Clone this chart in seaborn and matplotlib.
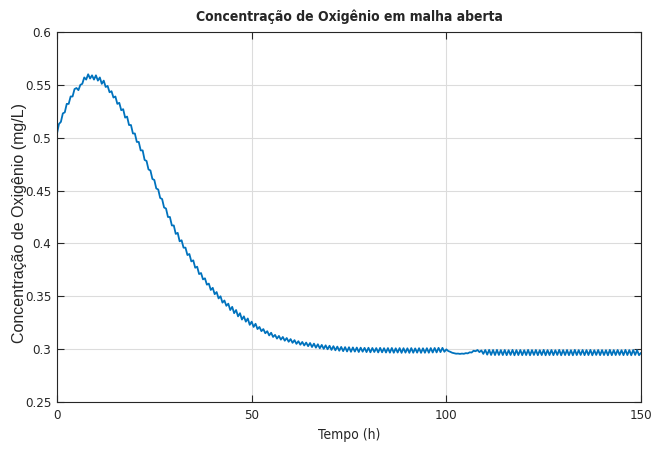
import numpy as np
import pandas as pd
import matplotlib
matplotlib.use("Agg")
import matplotlib.pyplot as plt
import seaborn as sns

step_h = 0.5
oxygen = [
    0.504, 0.513, 0.515, 0.523, 0.524, 0.532, 0.532, 0.539, 0.539, 0.546,
    0.547, 0.545, 0.550, 0.551, 0.557, 0.555, 0.560, 0.556, 0.559, 0.555,
    0.559, 0.554, 0.557, 0.551, 0.554, 0.548, 0.549, 0.543, 0.544, 0.538,
    0.539, 0.532, 0.533, 0.526, 0.527, 0.519, 0.520, 0.512, 0.512, 0.504,
    0.504, 0.496, 0.496, 0.488, 0.488, 0.479, 0.478, 0.470, 0.469, 0.461,
    0.460, 0.452, 0.451, 0.443, 0.442, 0.434, 0.433, 0.425, 0.425, 0.417,
    0.417, 0.409, 0.410, 0.402, 0.403, 0.396, 0.396, 0.389, 0.390, 0.383,
    0.384, 0.377, 0.378, 0.371, 0.372, 0.366, 0.367, 0.361, 0.362, 0.356,
    0.358, 0.352, 0.354, 0.348, 0.350, 0.344, 0.346, 0.341, 0.343, 0.337,
    0.340, 0.334, 0.337, 0.331, 0.334, 0.328, 0.331, 0.326, 0.329, 0.323,
    0.326, 0.321, 0.324, 0.319, 0.321, 0.317, 0.319, 0.315, 0.317, 0.313,
    0.3155, 0.3115, 0.3135, 0.3100, 0.3125, 0.3090, 0.3115, 0.3080, 0.3105, 0.3070,
    0.3095, 0.3060, 0.3085, 0.3050, 0.3075, 0.3042, 0.3068, 0.3035, 0.3062, 0.3028,
    0.3058, 0.3020, 0.3052, 0.3014, 0.3046, 0.3008, 0.3040, 0.3003, 0.3036, 0.2999,
    0.3032, 0.2993, 0.3028, 0.2989, 0.3024, 0.2985, 0.3021, 0.2981, 0.3019, 0.2978,
    0.3018, 0.2975, 0.3016, 0.2977, 0.3015, 0.2973, 0.3014, 0.2976, 0.3012, 0.2972,
    0.3013, 0.2970, 0.3011, 0.2973, 0.3010, 0.2969, 0.3012, 0.2970, 0.3009, 0.2968,
    0.3010, 0.2967, 0.3011, 0.2966, 0.3008, 0.2968, 0.3010, 0.2965, 0.3009, 0.2967,
    0.3008, 0.2965, 0.3010, 0.2966, 0.3007, 0.2967, 0.3009, 0.2965, 0.3008, 0.2966,
    0.3009, 0.2966, 0.3010, 0.2968, 0.3011, 0.2969, 0.3012, 0.2972, 0.3012, 0.2975,
    0.2998, 0.2982, 0.2975, 0.2966, 0.2962, 0.2957, 0.2958, 0.2955, 0.2958, 0.2956,
    0.2962, 0.2960, 0.2970, 0.2968, 0.2985, 0.2980, 0.2992, 0.2972, 0.2988, 0.2955,
    0.2992, 0.2948, 0.2993, 0.2945, 0.2992, 0.2944, 0.2993, 0.2945, 0.2991, 0.2944,
    0.2992, 0.2943, 0.2990, 0.2945, 0.2993, 0.2942, 0.2991, 0.2944, 0.2992, 0.2943,
    0.2990, 0.2944, 0.2993, 0.2942, 0.2991, 0.2945, 0.2992, 0.2943, 0.2990, 0.2944,
    0.2993, 0.2942, 0.2991, 0.2944, 0.2992, 0.2943, 0.2990, 0.2945, 0.2993, 0.2942,
    0.2991, 0.2944, 0.2992, 0.2943, 0.2990, 0.2942, 0.2993, 0.2944, 0.2991, 0.2945,
    0.2992, 0.2943, 0.2991, 0.2944, 0.2993, 0.2942, 0.2990, 0.2945, 0.2992, 0.2943,
    0.2991, 0.2944, 0.2990, 0.2942, 0.2993, 0.2943, 0.2991, 0.2944, 0.2992, 0.2945,
    0.2990, 0.2943, 0.2993, 0.2944, 0.2991, 0.2942, 0.2992, 0.2945, 0.2990, 0.2943,
    0.2965,
]
time_h = np.arange(len(oxygen)) * step_h

x_ticks = [0, 50, 100, 150]
x_tick_labels = ["0", "50", "100", "150"]
y_ticks = [0.25, 0.3, 0.35, 0.4, 0.45, 0.5, 0.55, 0.6]
y_tick_labels = ["0.25", "0.3", "0.35", "0.4", "0.45", "0.5", "0.55", "0.6"]

title = "Concentração de Oxigênio em malha aberta"
xlabel = "Tempo (h)"
ylabel = "Concentração de Oxigênio (mg/L)"

df = pd.DataFrame({"t": time_h, "o2": oxygen})

# ---- style ----
sns.set_theme(style="white")
plt.rcParams["font.family"] = ["DejaVu Sans"]
plt.rcParams["font.stretch"] = "condensed"
txt = "#262626"

fig = plt.figure(figsize=(6.54, 4.5), dpi=100)
ax = fig.add_axes([57 / 654, 48 / 450, 584 / 654, 370 / 450])

sns.lineplot(data=df, x="t", y="o2", ax=ax, color="#0072BD", linewidth=1.3)

ax.set_xlim(0, 150)
ax.set_ylim(0.25, 0.6)
ax.set_xticks(x_ticks)
ax.set_xticklabels(x_tick_labels)
ax.set_yticks(y_ticks)
ax.set_yticklabels(y_tick_labels)

ax.grid(True, color="#dcdcdc", linewidth=0.8)
ax.set_axisbelow(True)
for s in ax.spines.values():
    s.set_visible(True)
    s.set_color(txt)
    s.set_linewidth(0.8)

ax.tick_params(axis="both", which="both", direction="in", length=5, width=0.8,
               colors=txt, labelcolor=txt, labelsize=9.5,
               top=True, right=True, bottom=True, left=True)
ax.tick_params(axis="x", pad=5)
ax.tick_params(axis="y", pad=4)

ax.set_title(title, fontsize=10, fontweight="bold", color=txt, pad=8)
ax.set_xlabel(xlabel, fontsize=10, color=txt, labelpad=4)
ax.set_ylabel(ylabel, fontsize=11.5, color=txt,
              family=["Liberation Sans", "DejaVu Sans"], stretch="normal")
ax.yaxis.set_label_coords(-30 / 584, 0.485)

fig.savefig("out.png", dpi=100)
